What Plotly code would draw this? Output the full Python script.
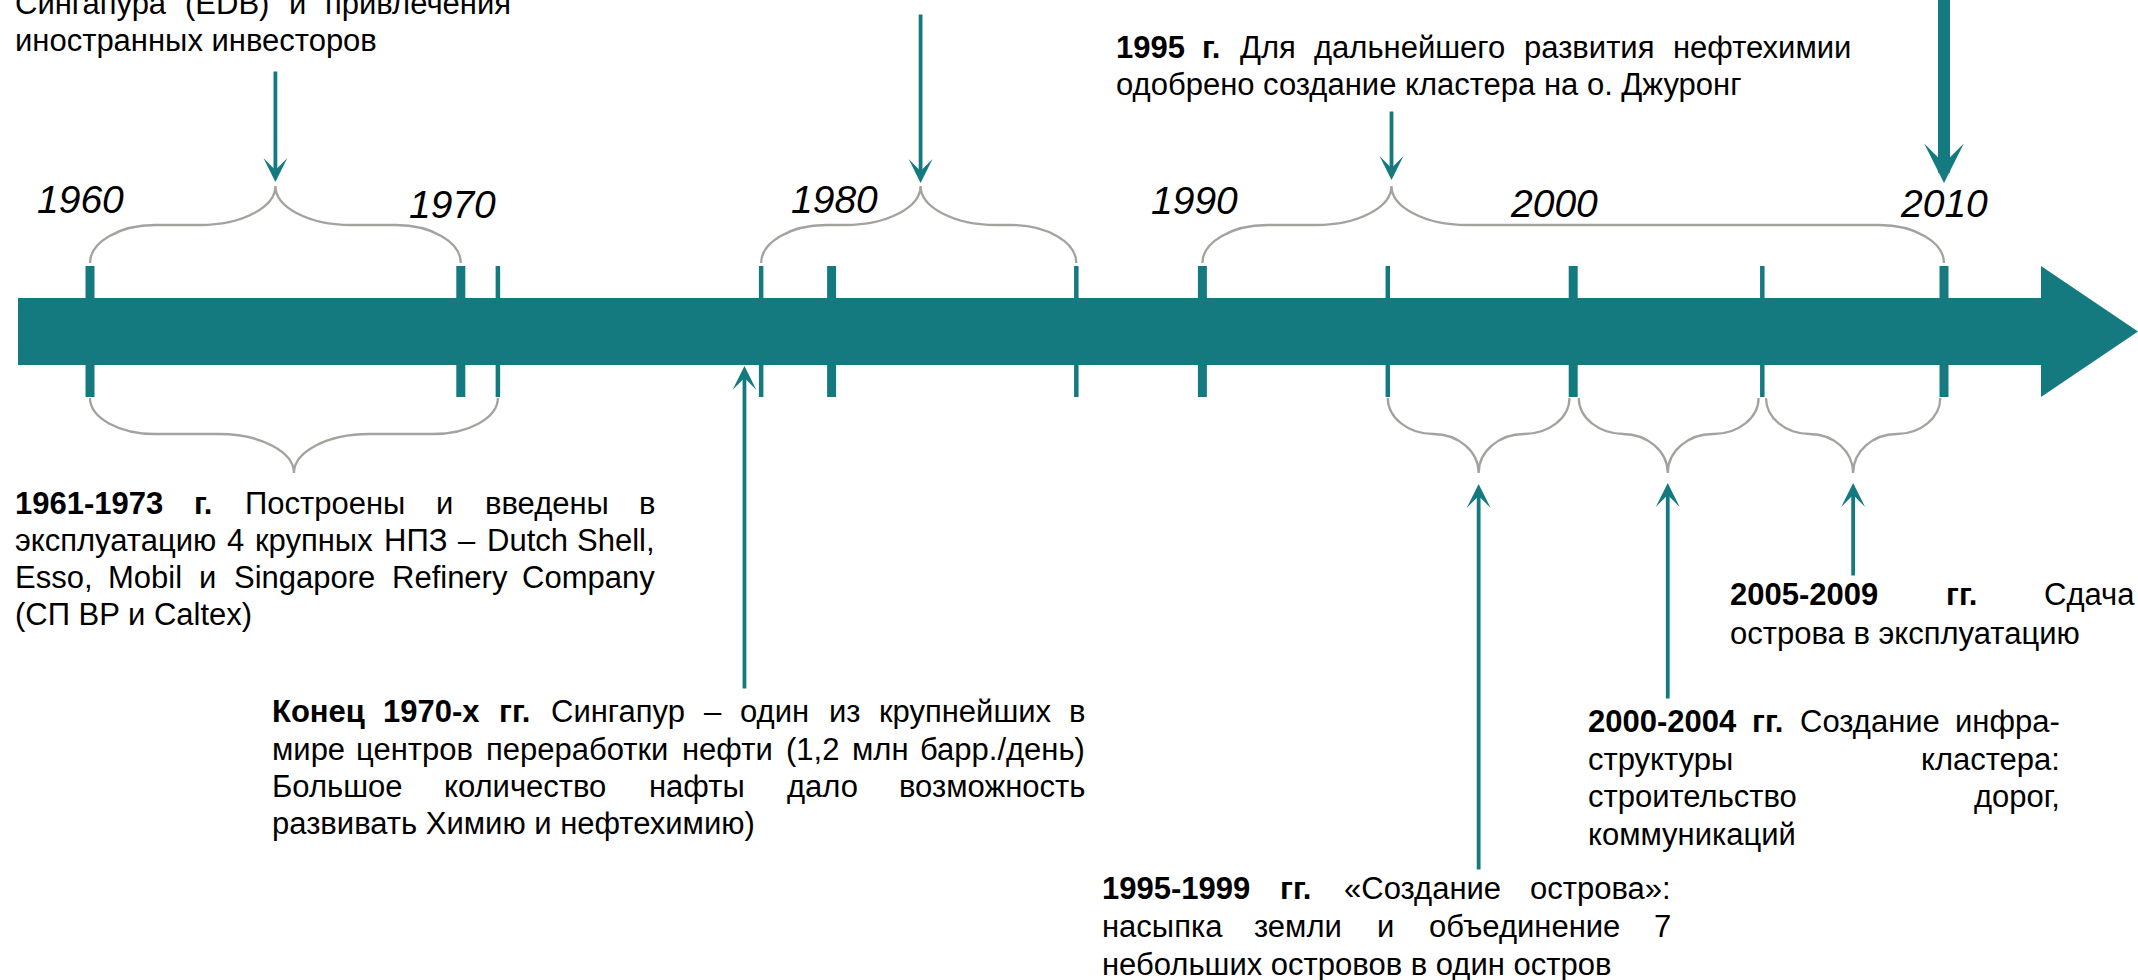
import plotly.graph_objects as go

# ---------------- data ----------------
decade_years = [1960, 1970, 1980, 1990, 2000, 2010]
decade_labels = ["1960", "1970", "1980", "1990", "2000", "2010"]
event_years = [1971, 1978.1, 1986.6, 1995, 2005.1]

# (start year, end year, tip year)
upper_braces = [(1960, 1970, 1965), (1978.1, 1986.6, 1982.4), (1990, 2010, 1995.1)]
lower_braces = [(1960, 1971, 1965.5), (1995, 1999.9, 1997.45),
                (2000.15, 2005.0, 2002.55), (2005.2, 2009.9, 2007.55)]

down_arrow_years = [1965, 1982.4, 1995.1]
big_arrow_year = 2010
up_arrow_years = [1977.65, 1997.45, 2002.55, 2007.55]

# text blocks: (lines, number of bold words at start of first line, justified-line count)
block_edb = (["Сингапура (EDB) и привлечения", "иностранных инвесторов"], 0, 1)
block_1995 = (["1995 г. Для дальнейшего развития нефтехимии",
               "одобрено создание кластера на о. Джуронг"], 2, 1)
block_1961 = (["1961-1973 г. Построены и введены в",
               "эксплуатацию 4 крупных НПЗ – Dutch Shell,",
               "Esso, Mobil и Singapore Refinery Company",
               "(СП BP и Caltex)"], 2, 3)
block_1970s = (["Конец 1970-х гг. Сингапур – один из крупнейших в",
                "мире центров переработки нефти (1,2 млн барр./день)",
                "Большое количество нафты дало возможность",
                "развивать Химию и нефтехимию)"], 3, 3)
block_2005 = (["2005-2009 гг. Сдача", "острова в эксплуатацию"], 2, 1)
block_2000 = (["2000-2004 гг. Создание инфра-", "структуры кластера:",
               "строительство дорог,", "коммуникаций"], 2, 3)
block_1999 = (["1995-1999 гг. «Создание острова»:", "насыпка земли и объединение 7",
               "небольших островов в один остров"], 2, 2)

# ---------------- layout / style ----------------
W, H = 2138, 980
PX_PER_YEAR = 37.08
X_AT_1960 = 90
X0 = 1960 - X_AT_1960 / PX_PER_YEAR
X1 = X0 + W / PX_PER_YEAR

TEAL = "#147A80"
GRAY = "#A3A39E"
FONT = "Liberation Sans, Arial, sans-serif"
FS = 31


def px2yr(px):
    return X0 + px / PX_PER_YEAR


BAR_START = px2yr(18)
HEAD_BASE = px2yr(2041)
BAR_TOP, BAR_BOTTOM, BAR_MID = 298, 365, 331.5
TICK_TOP, TICK_BOTTOM = 266, 397

shapes = []
shapes.append(dict(type="rect", xref="x", yref="y", x0=BAR_START, x1=HEAD_BASE + 0.02,
                   y0=BAR_TOP, y1=BAR_BOTTOM, fillcolor=TEAL, line=dict(width=0)))
shapes.append(dict(type="path", xref="x", yref="y",
                   path=f"M{HEAD_BASE},{TICK_TOP} L{X1},{BAR_MID} L{HEAD_BASE},{TICK_BOTTOM} Z",
                   fillcolor=TEAL, line=dict(width=0)))

for yv in decade_years:
    shapes.append(dict(type="line", xref="x", yref="y", x0=yv, x1=yv, y0=TICK_TOP, y1=TICK_BOTTOM,
                       line=dict(color=TEAL, width=9)))
for yv in event_years:
    shapes.append(dict(type="line", xref="x", yref="y", x0=yv, x1=yv, y0=TICK_TOP, y1=TICK_BOTTOM,
                       line=dict(color=TEAL, width=4.5)))


def brace_path(a, b, tip, ye, yh, yt):
    width_px = (b - a) * PX_PER_YEAR
    c = min(65, 0.25 * width_px) / PX_PER_YEAR
    m = min(75, 0.25 * width_px) / PX_PER_YEAR
    p = []
    p.append(f"M{a},{ye}")
    p.append(f"C{a},{ye + (yh - ye) * 0.55} {a + c * 0.45},{yh} {a + c},{yh}")
    p.append(f"L{tip - m},{yh}")
    p.append(f"C{tip - m * 0.45},{yh} {tip},{yh + (yt - yh) * 0.45} {tip},{yt}")
    p.append(f"C{tip},{yh + (yt - yh) * 0.45} {tip + m * 0.45},{yh} {tip + m},{yh}")
    p.append(f"L{b - c},{yh}")
    p.append(f"C{b - c * 0.45},{yh} {b},{ye + (yh - ye) * 0.55} {b},{ye}")
    return " ".join(p)


for a, b, t in upper_braces:
    shapes.append(dict(type="path", xref="x", yref="y", path=brace_path(a, b, t, 263, 225, 186),
                       line=dict(color=GRAY, width=2.3)))
for a, b, t in lower_braces:
    shapes.append(dict(type="path", xref="x", yref="y", path=brace_path(a, b, t, 398, 434, 473),
                       line=dict(color=GRAY, width=2.3)))

annotations = []


def arrow(x, y_tip, y_tail, width=3.8, size=1.05):
    annotations.append(dict(xref="x", yref="y", axref="x", ayref="y", x=x, y=y_tip, ax=x, ay=y_tail,
                            text="", showarrow=True, arrowhead=3, arrowwidth=width,
                            arrowsize=size, arrowcolor=TEAL))


down_tails = [70, 13, 110]
down_tips = [182, 183, 180]
for yv, tl, tp in zip(down_arrow_years, down_tails, down_tips):
    arrow(yv, tp, tl)
arrow(big_arrow_year, 183, -20, width=12, size=0.55)

up_tips = [366, 484, 483, 483]
up_tails = [690, 871, 700, 577]
for yv, tp, tl in zip(up_arrow_years, up_tips, up_tails):
    arrow(yv, tp, tl)

# year labels
label_dx = [-10, -8, 3, -8, -19, 0]
label_y = [199, 204, 199, 200, 203, 203]
for yv, lab, dx, ly in zip(decade_years, decade_labels, label_dx, label_y):
    annotations.append(dict(xref="x", yref="y", x=yv + dx / PX_PER_YEAR, y=ly,
                            text=f"<i>{lab}</i>", showarrow=False, xanchor="center", yanchor="middle",
                            font=dict(family=FONT, size=39, color="black")))

# text helpers
CW = {' ': 278, '.': 278, ',': 278, ':': 278, '-': 333, '–': 556, '(': 333, ')': 333, '/': 278,
      '«': 556, '»': 556}
for d in "0123456789":
    CW[d] = 556
CW.update(dict(zip("abcdefghijklmnopqrstuvwxyz",
                   [556, 556, 500, 556, 556, 278, 556, 556, 222, 222, 500, 222, 833, 556, 556, 556, 556,
                    333, 500, 278, 556, 500, 722, 500, 500, 500])))
CW.update(dict(zip("ABCDEFGHIJKLMNOPQRSTUVWXYZ",
                   [667, 667, 722, 722, 667, 611, 778, 722, 278, 500, 667, 556, 833, 722, 778, 667, 778,
                    722, 667, 611, 722, 667, 944, 667, 667, 611])))
CW.update(dict(zip("абвгдежзийклмнопрстуфхцчшщъыьэюя",
                   [556, 573, 531, 365, 583, 556, 669, 458, 559, 559, 438, 583, 688, 552, 556, 542, 556,
                    500, 458, 500, 823, 500, 573, 521, 802, 823, 625, 719, 521, 510, 750, 542])))
CW.update(dict(zip("АБВГДЕЖЗИЙКЛМНОПРСТУФХЦЧШЩЪЫЬЭЮЯ",
                   [667, 656, 667, 542, 677, 667, 923, 604, 719, 719, 583, 656, 833, 722, 778, 719, 667,
                    722, 611, 635, 760, 667, 740, 667, 917, 938, 792, 885, 656, 719, 1010, 722])))


def word_w(word, bold):
    s = 0
    for ch in word:
        w = CW.get(ch, 556)
        if bold and ch.isalpha():
            w *= 1.08
        s += w
    return s * FS / 1000


def txt(word, bold):
    return f"<b>{word}</b>" if bold else word


def add_text(x, y, text, anchor):
    annotations.append(dict(xref="paper", yref="y", x=x / W, y=y, text=text, showarrow=False,
                            xanchor=anchor, yanchor="middle",
                            font=dict(family=FONT, size=FS, color="black")))


def place_block(block, x_left, x_right, ys):
    lines, nbold, njust = block
    for li, (line, y) in enumerate(zip(lines, ys)):
        words = line.split(" ")
        bolds = [(li == 0 and i < nbold) for i in range(len(words))]
        if li < njust and len(words) > 1:
            ws = [word_w(w, b) for w, b in zip(words, bolds)]
            gap = (x_right - x_left - sum(ws)) / (len(words) - 1)
            cur = x_left
            for i, (w, b, ww) in enumerate(zip(words, bolds, ws)):
                if i == 0:
                    add_text(x_left, y, txt(w, b), "left")
                elif i == len(words) - 1:
                    add_text(x_right, y, txt(w, b), "right")
                else:
                    add_text(cur + ww / 2, y, txt(w, b), "center")
                cur += ww + gap
        else:
            parts = []
            for w, b in zip(words, bolds):
                parts.append(txt(w, b))
            add_text(x_left, y, " ".join(parts), "left")


place_block(block_edb, 13, 513, [3, 40])
place_block(block_1995, 1114, 1853, [47, 84])
place_block(block_1961, 13, 657, [503, 540, 577, 614])
place_block(block_1970s, 270, 1087, [711, 749, 786, 823])
place_block(block_2005, 1728, 2137, [594, 633])
place_block(block_2000, 1586, 2062, [721, 759, 796, 834])
place_block(block_1999, 1100, 1673, [888, 926, 964])

fig = go.Figure()
fig.update_layout(
    width=W, height=H, margin=dict(l=0, r=0, t=0, b=0),
    paper_bgcolor="white", plot_bgcolor="white", showlegend=False,
    xaxis=dict(range=[X0, X1], visible=False, fixedrange=True),
    yaxis=dict(range=[H, 0], visible=False, fixedrange=True),
    shapes=shapes, annotations=annotations,
)
fig.write_html("out.html", config={"displayModeBar": False},
               post_script="document.body.style.margin='0';document.body.style.overflow='hidden';")
